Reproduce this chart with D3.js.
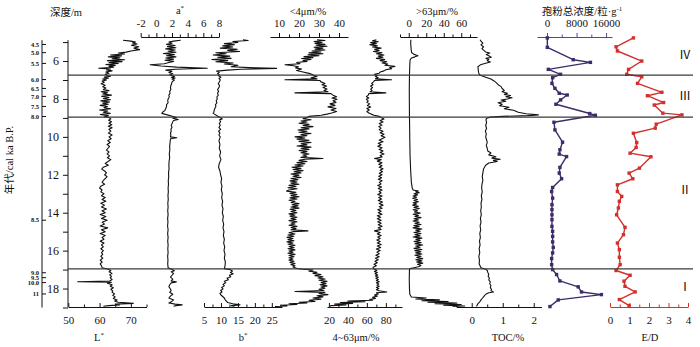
<!DOCTYPE html>
<html>
<head>
<meta charset="utf-8">
<script src="https://cdn.jsdelivr.net/npm/d3@7"></script>
<style>
body { margin: 0; background: #fff; }
text { font-family: "Liberation Serif", "Noto Sans CJK SC", serif; }
</style>
</head>
<body>
<script>
// ---- Data: [depth (m), value] ----
const lStar = [[4.9,67.5],[4.95,70],[5.0,71.5],[5.05,70.5],[5.1,72],[5.17,70.2],[5.25,72.5],[5.32,71],[5.4,72.8],[5.47,70],[5.53,68.5],[5.58,66],[5.63,68],[5.68,63.5],[5.73,67],[5.78,62.8],[5.83,66.5],[5.88,64],[5.93,68],[5.98,62.5],[6.03,67.2],[6.08,63],[6.13,66],[6.18,62],[6.23,65],[6.28,63],[6.33,64.5],[6.38,59.7],[6.42,63.5],[6.47,62.2],[6.52,64],[6.58,62],[6.64,63],[6.7,61.8],
  [6.76,62.5],[6.8,63.5],[6.85,61.5],[6.9,62.8],[6.95,61],[7.0,62.2],[7.06,60.8],[7.12,61.5],[7.2,60.5],[7.28,61.8],[7.35,61],[7.42,62],[7.5,61.2],[7.56,63],[7.62,60.5],[7.68,62.5],[7.74,61],[7.8,63.8],[7.86,60.6],[7.92,63],[7.98,61.2],[8.04,63.5],[8.1,60.4],[8.16,63.2],[8.22,61],[8.28,62.8],[8.34,60.2],[8.4,62.5],[8.46,61.4],[8.52,63.5],[8.58,60],[8.64,62.6],[8.7,61.2],[8.76,63.4],[8.82,60.2],[8.88,62.8],[8.94,61.5],
  [8.98,63],[9.05,63.6],[9.12,62.9],[9.2,63.8],[9.28,63],[9.36,63.9],[9.44,62.8],[9.52,64],[9.6,63],[9.7,63.6],[9.8,62.8],[9.9,64],[10.0,63],[10.1,63.7],[10.2,62.6],[10.3,63.4],[10.4,62.4],[10.5,63.2],[10.6,62.7],[10.7,62.2],[10.8,63],[10.9,62.4],[11.0,63.2],[11.1,62.5],[11.2,63.6],[11.3,62.7],[11.4,61.8],[11.5,62.8],[11.6,61.2],[11.7,60.7],[11.8,61.6],[11.9,62.2],[12.0,61.6],[12.1,62.4],[12.2,61.8],[12.3,61.2],[12.4,60.8],[12.5,61.6],[12.6,60.4],[12.7,60],[12.8,60.8],[12.9,60.4],[13.0,61.4],[13.1,60.6],[13.2,61.8],[13.3,60.8],[13.4,62],[13.5,60.4],[13.6,61.6],[13.7,60.6],[13.8,62.2],[13.9,60.8],[14.0,61.8],[14.1,60.2],[14.2,62],[14.3,60.6],[14.4,62.4],[14.5,60.8],[14.6,61.6],[14.7,60.2],[14.8,62.6],[14.9,60.6],[15.0,61.8],[15.1,60.2],[15.2,61.8],[15.3,60.8],[15.4,61.4],[15.5,60.2],[15.6,61.4],[15.7,60.6],[15.8,61.2],[15.9,60.4],[16.0,61.2],[16.1,60.6],[16.2,61],[16.3,60.4],[16.4,61],[16.5,60.2],[16.6,60.8],[16.7,60.2],[16.8,60.6],[16.9,60.8],
  [16.98,62.8],[17.05,63.6],[17.12,63],[17.2,64],[17.28,63.2],[17.36,63.8],[17.44,63.4],[17.52,64],[17.6,63.2],[17.64,53],[17.67,63.8],[17.72,62.5],[17.8,64],[17.88,63.4],[17.96,64.4],[18.04,63.6],[18.12,64.2],[18.2,64],[18.28,64.8],[18.36,64.2],[18.44,65],[18.52,64.4],[18.6,65.6],[18.66,64.8],[18.72,66],[18.78,70.8],[18.82,65],[18.86,66.4],[18.9,63],[18.93,61.2]];

const aStar = [[4.9,3.1],[4.95,2.2],[5.0,1.6],[5.06,2.0],[5.12,1.3],[5.18,2.4],[5.24,1.4],[5.3,2.5],[5.36,1.2],[5.42,2.4],[5.48,1.5],[5.54,2.5],[5.6,0.9],[5.66,2.3],[5.72,1.3],[5.78,2.5],[5.84,1.2],[5.9,2.2],[5.96,1.1],[6.02,2.2],[6.08,1.6],[6.14,1.0],[6.2,-0.8],[6.26,0.6],[6.32,2.6],[6.38,6.5],[6.43,2.4],[6.48,1.2],[6.54,2.0],[6.6,1.6],[6.67,2.1],[6.72,1.7],
  [6.78,2.1],[6.82,2.3],[6.86,1.9],[6.9,2.4],[6.95,2.0],[7.0,2.3],[7.1,2.0],[7.2,1.95],[7.3,1.85],[7.4,1.8],[7.5,1.85],[7.6,1.7],[7.7,1.75],[7.8,1.6],[7.9,1.65],[8.0,1.5],[8.1,1.45],[8.2,1.5],[8.3,1.3],[8.4,1.3],[8.5,1.2],[8.6,1.1],[8.7,0.8],[8.76,0.7],
  [8.98,2.6],[9.02,2.1],[9.08,2.8],[9.14,2.2],[9.2,2.1],[9.3,2.0],[9.4,1.9],[9.5,2.0],[9.6,1.85],[9.7,1.9],[9.8,1.8],[9.9,1.85],[10.0,1.8],[10.05,2.6],[10.1,1.8],[10.3,1.75],[10.5,1.7],[10.7,1.72],[10.9,1.65],[11.1,1.7],[11.3,1.62],[11.5,1.6],[11.7,1.62],[11.9,1.55],[12.1,1.58],[12.3,1.52],[12.5,1.55],[12.7,1.5],[12.9,1.53],[13.1,1.48],[13.3,1.52],[13.5,1.46],[13.7,1.5],[13.9,1.45],[14.1,1.5],[14.3,1.44],[14.5,1.48],[14.7,1.43],[14.9,1.5],[15.1,1.44],[15.3,1.5],[15.5,1.45],[15.7,1.5],[15.9,1.46],[16.1,1.5],[16.3,1.44],[16.5,1.48],[16.7,1.45],[16.9,1.5],
  [17.0,2.0],[17.06,2.3],[17.12,1.9],[17.2,2.2],[17.3,2.0],[17.4,1.8],[17.5,2.1],[17.6,1.9],[17.65,2.55],[17.7,1.9],[17.8,1.7],[17.9,1.6],[18.0,1.75],[18.1,1.9],[18.2,1.7],[18.3,2.1],[18.4,1.8],[18.5,1.6],[18.6,2.2],[18.7,1.9],[18.76,1.6],[18.82,2.4],[18.86,3.3],[18.9,2.5],[18.93,2.2]];

const bStar = [[4.88,16.5],[4.92,18],[4.97,13.5],[5.02,15],[5.08,11],[5.14,14],[5.2,10.5],[5.26,13.5],[5.32,9.8],[5.38,14.8],[5.44,12],[5.5,15.5],[5.56,8.5],[5.62,11.5],[5.68,7.7],[5.74,12.6],[5.8,9],[5.86,13],[5.92,7.3],[5.98,12],[6.04,8.5],[6.1,13.6],[6.16,11],[6.22,15],[6.3,13],[6.36,20],[6.39,26.4],[6.43,16],[6.48,12],[6.53,8.7],[6.6,9.5],[6.67,9.0],[6.72,9.5],
  [6.78,9.3],[6.85,10],[6.92,9.4],[7.0,9.8],[7.1,9.5],[7.2,9.2],[7.3,9.6],[7.4,9.4],[7.5,9.0],[7.6,9.3],[7.7,9.0],[7.8,9.2],[7.9,8.8],[8.0,8.9],[8.1,8.6],[8.2,8.8],[8.3,8.4],[8.4,8.5],[8.5,8.2],[8.6,8.0],[8.7,7.9],[8.76,7.7],
  [8.98,9.7],[9.05,10.4],[9.1,9.6],[9.2,9.9],[9.3,9.5],[9.4,9.8],[9.5,9.4],[9.6,9.9],[9.7,9.3],[9.8,9.7],[9.9,9.4],[10.0,9.8],[10.2,9.4],[10.4,9.7],[10.6,9.5],[10.8,9.9],[11.0,9.6],[11.2,10],[11.4,9.5],[11.6,9.3],[11.8,9.7],[12.0,9.9],[12.2,10.2],[12.4,10],[12.6,10.3],[12.8,10.1],[13.0,10.4],[13.2,10.2],[13.4,10.5],[13.6,10.3],[13.8,10.6],[14.0,10.4],[14.2,10.7],[14.4,10.5],[14.6,10.8],[14.8,10.6],[15.0,10.9],[15.2,10.7],[15.4,11],[15.6,10.8],[15.8,11.1],[16.0,10.9],[16.2,11.2],[16.4,11],[16.6,11.3],[16.8,11.2],[16.95,11],
  [17.0,12.6],[17.08,13.4],[17.15,12.8],[17.22,13.6],[17.3,12.5],[17.38,12.9],[17.46,11.8],[17.54,12.2],[17.62,11],[17.7,11.4],[17.78,10.6],[17.86,11],[17.94,10.2],[18.02,10.6],[18.1,9.9],[18.18,10.3],[18.26,9.7],[18.34,10],[18.42,10.5],[18.5,11],[18.58,11.2],[18.66,11.6],[18.74,12],[18.8,13.5],[18.86,15.6],[18.9,13],[18.93,14]];

// <4 μm (%)
const clay = [[4.88,29],[4.92,33],[4.97,27.5],[5.02,31.5],[5.07,28],[5.12,33],[5.17,28.5],[5.22,34],[5.27,27.5],[5.32,32],[5.37,28],[5.42,33],[5.47,26.5],[5.52,31],[5.57,25],[5.62,32],[5.67,24.5],[5.72,30],[5.77,22.5],[5.82,27],[5.87,21.3],[5.92,26],[5.97,22],[6.02,24],[6.08,18.8],[6.14,20.5],[6.2,13],[6.25,17.2],[6.3,19.7],[6.36,18.3],[6.42,21.3],[6.5,18.8],[6.58,22],[6.65,25],[6.72,27],
  [6.76,27],[6.82,29],[6.88,26],[6.94,29],[6.99,13],[7.03,30.5],[7.1,31],[7.18,33],[7.25,31.5],[7.32,33.8],[7.4,32],[7.48,34],[7.55,32.5],[7.62,34.5],[7.68,18],[7.72,36],[7.8,37],[7.88,38.8],[7.95,36.5],[8.02,39],[8.1,37],[8.18,38.5],[8.26,35.5],[8.34,38],[8.42,34.5],[8.5,38.5],[8.58,36],[8.66,38.8],[8.74,36.3],[8.8,34],[8.86,31],[8.92,25],
  [8.98,24],[9.04,22],[9.1,26],[9.16,21],[9.22,24],[9.28,20],[9.34,25],[9.4,22],[9.46,27],[9.52,21],[9.58,25],[9.64,19.5],[9.7,24],[9.76,20],[9.82,26],[9.88,21],[9.94,24],[10.0,18],[10.06,23],[10.12,19],[10.18,25],[10.24,20],[10.3,26],[10.36,21],[10.42,24],[10.48,19],[10.54,26],[10.6,21],[10.66,25],[10.72,20],[10.78,24],[10.84,21],[10.9,25],[10.96,22],[11.02,24],[11.08,21],[11.14,32],[11.18,23],[11.24,20],[11.3,24],[11.36,19],[11.42,23],[11.48,18],[11.54,22],[11.6,16.5],[11.66,21],[11.72,17],[11.78,22],[11.84,17.5],[11.9,21],[11.96,16],[12.02,20],[12.08,17],[12.14,21],[12.2,16],[12.26,19.5],[12.32,15.5],[12.38,19],[12.44,16],[12.5,20],[12.56,15],[12.62,18.5],[12.68,14.5],[12.74,19],[12.8,15],[12.86,13.8],[12.92,18.5],[12.98,15.5],[13.04,19],[13.1,16],[13.16,20],[13.22,15.5],[13.28,19],[13.34,15],[13.4,18],[13.46,16],[13.52,20],[13.58,16.5],[13.64,19.5],[13.7,16],[13.76,20],[13.82,15.5],[13.88,18.5],[13.94,16],[14.0,19],[14.06,15],[14.12,18],[14.18,15.5],[14.24,19],[14.3,16],[14.36,18.5],[14.42,15],[14.48,19],[14.54,16],[14.6,18],[14.66,15],[14.72,19],[14.78,16],[14.84,18.5],[14.9,16],[14.96,24.5],[15.0,17],[15.06,15],[15.12,18],[15.18,14.5],[15.24,17.5],[15.3,14],[15.36,17],[15.42,14.5],[15.48,17.5],[15.54,14],[15.6,17],[15.66,14.5],[15.72,18],[15.78,15],[15.84,17.5],[15.9,14.5],[15.96,18],[16.02,15],[16.08,17],[16.14,14.5],[16.2,18],[16.26,15],[16.32,17.5],[16.38,15],[16.44,17],[16.5,15],[16.56,17.5],[16.62,15.5],[16.68,18],[16.74,16],[16.8,18],[16.86,17],[16.94,19],
  [16.98,22],[17.02,27],[17.08,25],[17.14,29],[17.2,27],[17.26,31],[17.32,28],[17.38,32],[17.44,29.5],[17.5,33],[17.56,30],[17.62,34],[17.68,31],[17.74,33.5],[17.8,30.5],[17.86,34],[17.92,31],[17.98,33],[18.04,30],[18.1,32.5],[18.16,18],[18.2,33],[18.26,30],[18.32,34.5],[18.38,29],[18.44,32],[18.5,27],[18.56,31],[18.62,25],[18.68,28],[18.72,20],[18.76,24],[18.8,15],[18.84,19],[18.88,11],[18.92,14],[18.95,8]];

// 4~63 μm (%)
const silt = [[4.88,70],[4.93,66],[4.98,72],[5.03,64],[5.08,70],[5.14,63],[5.2,71],[5.26,66],[5.32,75],[5.38,68],[5.44,73],[5.5,67],[5.56,76],[5.62,70],[5.68,78],[5.74,72],[5.8,77],[5.86,70],[5.92,79],[5.98,74],[6.04,81],[6.1,76],[6.16,82],[6.22,79],[6.28,89.5],[6.34,84],[6.4,86],[6.46,80],[6.52,78],[6.58,74],[6.64,73],[6.7,68],
  [6.76,71],[6.82,69],[6.88,72],[6.94,69],[6.99,86],[7.03,68],[7.1,67],[7.18,65],[7.25,66.5],[7.32,64],[7.4,66],[7.48,64],[7.55,65.5],[7.62,63.5],[7.68,80],[7.72,62],[7.8,61.5],[7.88,59.5],[7.95,62],[8.02,59.5],[8.1,61.5],[8.18,60],[8.26,63],[8.34,60.5],[8.42,64],[8.5,60],[8.58,62.5],[8.66,60],[8.74,62],[8.8,64.5],[8.86,67.5],[8.92,73],
  [8.98,75],[9.06,78],[9.14,74],[9.22,77],[9.3,73],[9.38,76],[9.46,72.5],[9.54,75],[9.62,73],[9.7,77],[9.78,74],[9.86,78],[9.94,75],[10.02,79],[10.1,76],[10.18,73],[10.26,77],[10.34,72],[10.42,75],[10.5,71.5],[10.58,76],[10.66,73],[10.74,77],[10.82,74],[10.9,78],[10.98,74],[11.06,76],[11.14,68],[11.2,75],[11.28,71],[11.36,76],[11.44,72.5],[11.52,76],[11.6,73],[11.68,77],[11.76,74],[11.84,76.5],[11.92,73],[12.0,76],[12.08,72.5],[12.16,75.5],[12.24,72],[12.32,76],[12.4,73],[12.48,75],[12.56,71.5],[12.64,75.5],[12.72,72],[12.8,76],[12.88,73],[12.96,75],[13.04,71.5],[13.12,76],[13.2,72.5],[13.28,75.5],[13.36,72],[13.44,76.5],[13.52,73],[13.6,77],[13.68,73],[13.76,76],[13.84,71.5],[13.92,75],[14.0,72],[14.08,76],[14.16,71],[14.24,74.5],[14.32,71],[14.4,75],[14.48,71.5],[14.56,75],[14.64,72],[14.72,76],[14.8,72],[14.88,75],[14.96,68],[15.04,74],[15.12,71],[15.2,75],[15.28,71.5],[15.36,74],[15.44,70.5],[15.52,74],[15.6,71],[15.68,75],[15.76,71],[15.84,74.5],[15.92,70],[16.0,74],[16.08,70.5],[16.16,73],[16.24,69.5],[16.32,73],[16.4,69],[16.48,72],[16.56,68.5],[16.64,71],[16.72,67.5],[16.8,70],[16.88,66.5],[16.94,67],
  [16.98,68],[17.04,70.5],[17.1,68],[17.16,71],[17.22,68.5],[17.28,71.5],[17.34,69],[17.4,72],[17.46,69.5],[17.52,72],[17.58,70],[17.64,73],[17.7,70],[17.76,72.5],[17.82,70.5],[17.88,73],[17.94,70],[18.0,72.5],[18.06,70],[18.12,73],[18.18,81],[18.22,70],[18.28,72],[18.34,68],[18.4,71],[18.46,66],[18.52,69],[18.58,63],[18.62,66],[18.66,40],[18.7,58],[18.74,32],[18.78,45],[18.82,26],[18.86,38],[18.9,22],[18.94,21]];

// >63 μm (%)
const sand = [[4.88,2.5],[5.0,2.2],[5.2,2.4],[5.4,2.8],[5.55,3.2],[5.65,6],[5.72,10.5],[5.78,7],[5.84,3],[5.95,1.5],[6.2,1.2],[6.5,1.0],[6.8,0.8],[7.5,0.6],[8.2,0.7],[8.9,0.8],[9.5,1.0],[10.2,1.2],[11,1.5],[11.8,2.2],[12.4,3],[12.7,4],[12.8,5],[12.86,11],[12.9,8],[12.95,12],[13.0,6],[13.06,10],[13.12,5],[13.18,9],[13.24,4.5],[13.3,10],[13.36,6],[13.42,11],[13.48,5],[13.54,9],[13.6,4.5],[13.66,11],[13.72,6],[13.78,12],[13.84,5],[13.9,10],[13.96,6.5],[14.02,13],[14.08,5],[14.14,11],[14.2,7],[14.26,14],[14.32,6],[14.38,11],[14.44,5],[14.5,12],[14.56,7],[14.62,14],[14.68,6],[14.74,12],[14.8,5],[14.86,15],[14.92,8],[14.98,13],[15.04,6],[15.1,14],[15.16,7],[15.22,13],[15.28,5],[15.34,15],[15.4,8],[15.46,13],[15.52,6],[15.58,14],[15.64,7],[15.7,16],[15.76,8],[15.82,13],[15.88,6],[15.94,15],[16.0,7],[16.06,14],[16.12,8],[16.18,15],[16.24,7],[16.3,14],[16.36,9],[16.42,16],[16.48,8],[16.54,15],[16.6,9],[16.66,16],[16.72,10],[16.78,14],[16.84,12],[16.9,6],[16.95,1.5],[17.0,0.8],[17.5,0.6],[18.0,0.8],[18.3,1.2],[18.45,3],[18.5,20],[18.55,8],[18.6,35],[18.64,15],[18.68,45],[18.72,22],[18.76,55],[18.8,30],[18.84,60],[18.88,40],[18.92,64],[18.95,50]];

const toc = [[4.88,0.27],[4.95,0.3],[5.05,0.36],[5.15,0.3],[5.25,0.38],[5.35,0.33],[5.45,0.4],[5.52,0.45],[5.58,0.58],[5.65,0.47],[5.72,0.55],[5.8,0.63],[5.86,0.46],[5.92,0.55],[5.98,0.5],[6.05,0.6],[6.12,0.45],[6.2,0.28],[6.3,0.2],[6.45,0.21],[6.6,0.22],[6.72,0.25],
  [6.76,0.3],[6.85,0.45],[6.95,0.62],[7.05,0.72],[7.15,0.8],[7.25,0.85],[7.35,0.95],[7.45,0.98],[7.55,1.05],[7.62,0.98],[7.7,1.15],[7.76,1.05],[7.82,1.25],[7.88,1.1],[7.94,1.3],[8.0,1.15],[8.06,0.95],[8.12,1.1],[8.2,0.85],[8.28,0.98],[8.36,0.9],[8.44,1.2],[8.52,1.05],[8.6,1.35],[8.7,1.5],[8.78,1.75],[8.84,2.15],[8.88,1.8],[8.92,1.0],[8.96,0.6],[9.02,0.48],
  [9.1,0.46],[9.25,0.48],[9.4,0.45],[9.55,0.48],[9.7,0.44],[9.85,0.47],[10.0,0.45],[10.15,0.48],[10.3,0.5],[10.45,0.47],[10.6,0.5],[10.75,0.52],[10.85,0.62],[10.95,0.55],[11.05,0.78],[11.12,0.65],[11.18,0.92],[11.24,0.7],[11.3,0.82],[11.38,0.55],[11.5,0.45],[11.7,0.38],[11.9,0.36],[12.1,0.34],[12.3,0.36],[12.5,0.33],[12.7,0.32],[12.9,0.34],[13.1,0.31],[13.3,0.33],[13.5,0.3],[13.7,0.31],[13.9,0.29],[14.1,0.31],[14.3,0.28],[14.5,0.3],[14.7,0.27],[14.9,0.29],[15.1,0.26],[15.3,0.28],[15.5,0.25],[15.7,0.27],[15.9,0.24],[16.1,0.26],[16.3,0.23],[16.5,0.25],[16.7,0.24],[16.9,0.3],
  [16.98,0.45],[17.05,0.5],[17.15,0.52],[17.25,0.55],[17.35,0.53],[17.45,0.57],[17.55,0.55],[17.65,0.6],[17.75,0.58],[17.85,0.62],[17.95,0.6],[18.05,0.64],[18.12,0.62],[18.18,0.7],[18.22,0.55],[18.3,0.45],[18.4,0.4],[18.5,0.35],[18.6,0.3],[18.7,0.26],[18.8,0.2],[18.9,0.17],[18.94,0.15]];

// pollen concentration (grains/g)
const pollen = [[4.78,100],[5.28,100],[5.93,7100],[6.07,11760],[6.44,360],[6.7,3680],[6.88,1530],[7.18,1350],[7.44,2150],[7.7,3320],[7.79,5480],[8.05,3680],[8.28,2420],[8.77,11580],[8.86,13100],[9.23,1890],[9.63,2150],[10.28,4220],[10.68,3500],[10.91,3320],[11.04,5300],[11.61,3500],[11.91,3320],[12.21,3950],[12.67,1530],[12.88,1260],[13.23,1530],[13.58,1350],[13.84,1350],[14.11,1350],[14.37,1350],[14.72,1350],[14.98,1530],[15.25,1530],[15.54,1530],[15.83,1700],[16.12,1530],[16.42,1260],[16.74,1260],[17.0,1530],[17.26,2600],[17.6,3500],[17.91,8440],[18.18,9340],[18.32,14730],[18.6,3050],[18.95,800]];

// E/D ratio
const ed = [[4.78,1.2],[5.25,0.31],[5.47,0.38],[6.0,1.63],[6.44,0.95],[6.7,0.86],[6.83,1.63],[7.18,1.41],[7.65,2.66],[7.83,1.92],[8.19,2.75],[8.32,2.27],[8.75,2.71],[8.84,3.69],[9.33,2.37],[9.54,2.32],[9.81,1.2],[10.3,1.37],[10.56,1.34],[10.86,1.03],[11.05,2.1],[11.65,1.51],[11.91,0.98],[12.21,1.17],[12.53,0.38],[12.88,0.38],[13.14,0.6],[13.4,0.48],[13.75,0.43],[14.11,0.34],[14.77,0.77],[15.16,0.69],[15.6,0.38],[15.95,0.48],[16.35,0.48],[16.74,0.52],[17.05,0.31],[17.3,1.03],[17.61,0.72],[17.88,0.77],[18.18,1.29],[18.58,0.48],[18.9,0.98]];

// depth axis and age tie points
const depthTicks = [5,6,7,8,9,10,11,12,13,14,15,16,17,18,19];
const ageLabels = ['4.5','5.0','5.5','6.0','6.5','7.0','7.5','8.0','8.5','9.0','9.5','10.0','11'];
const ageValues = [4.5,5.0,5.5,6.0,6.5,7.0,7.5,8.0,8.5,9.0,9.5,10.0,11];
const ageDepths = [5.1,5.53,6.1,6.95,7.42,7.84,8.37,8.9,14.37,17.14,17.4,17.66,18.26];

// zones
const zoneBounds = [6.74, 8.96, 16.96];
const zoneNames = ['Ⅳ','Ⅲ','Ⅱ','Ⅰ'];
const zoneMid = [5.68, 7.84, 12.8, 17.9];

// ---- Layout ----
const width = 700, height = 347;
const topY = 37, bottomY = 307;
const svg = d3.select('body').append('svg')
    .attr('width', width)
    .attr('height', height);

const y = d3.scaleLinear().domain([4.78, 19]).range([37.9, 307.5]);

// x scales, one per panel
const xL = d3.scaleLinear().domain([50, 75]).range([68.3, 146.5]);
const xA = d3.scaleLinear().domain([-2, 8]).range([140.7, 219]);
const xB = d3.scaleLinear().domain([5, 28]).range([204, 282]);
const xClay = d3.scaleLinear().domain([5.5, 44.5]).range([270, 348]);
const xSilt = d3.scaleLinear().domain([18, 97]).range([327, 402]);
const xSand = d3.scaleLinear().domain([-10, 78]).range([400, 477]);
const xToc = d3.scaleLinear().domain([-0.5, 2.25]).range([456.2, 541.5]);
const xPollen = d3.scaleLinear().domain([-2700, 17600]).range([537, 612]);
const xEd = d3.scaleLinear().domain([0, 4]).range([610, 688]);

const purple = '#3d2c68', purpleAxis = '#4b4a9c', red = '#d3302c';

// Draw an axis with major (labelled) and minor ticks
function drawAxis(scale, pos, major, minor, fmt, color) {
    const top = pos === 'top';
    const dir = top ? 1 : -1;
    const make = top ? d3.axisTop : d3.axisBottom;
    const g = svg.append('g').attr('transform', `translate(0,${top ? topY : bottomY})`);
    g.call(make(scale).tickValues(major).tickFormat(fmt)
        .tickSizeInner(4 * dir).tickSizeOuter(0).tickPadding(top ? 6 : 9));
    g.append('g').call(make(scale).tickValues(minor).tickFormat('')
        .tickSizeInner(2.5 * dir).tickSizeOuter(0))
        .select('.domain').remove();
    g.selectAll('path, line').attr('stroke', color).attr('stroke-width', 1);
    g.selectAll('text')
        .attr('font-family', '"Liberation Serif", serif')
        .attr('font-size', 11)
        .attr('fill', '#111');
}

drawAxis(xL, 'bottom', [50, 60, 70], [55, 65, 75], d3.format('d'), '#111');
drawAxis(xA, 'top', [-2, 0, 2, 4, 6, 8], [-1, 1, 3, 5, 7], d => d3.format('d')(d).replace('−', '-'), '#111');
drawAxis(xB, 'bottom', [5, 10, 15, 20, 25], [7.5, 12.5, 17.5, 22.5, 27.5], d3.format('d'), '#111');
drawAxis(xClay, 'top', [10, 20, 30, 40], [15, 25, 35], d3.format('d'), '#111');
drawAxis(xSilt, 'bottom', [20, 40, 60, 80], [30, 50, 70, 90], d3.format('d'), '#111');
drawAxis(xSand, 'top', [0, 20, 40, 60], [-10, 10, 30, 50, 70], d3.format('d'), '#111');
drawAxis(xToc, 'bottom', [0, 1, 2], [-0.5, 0.5, 1.5], d3.format('d'), '#111');
drawAxis(xPollen, 'top', [0, 8000, 16000], [4000, 12000], d3.format('d'), purpleAxis);
drawAxis(xEd, 'bottom', [0, 1, 2, 3, 4], [0.5, 1.5, 2.5, 3.5], d3.format('d'), red);

// depth axis
const depthAxis = svg.append('g').attr('transform', 'translate(68,0)')
    .call(d3.axisLeft(y).tickValues(depthTicks)
        .tickFormat(d => d % 2 === 0 ? d : '').tickSize(5).tickPadding(4));
depthAxis.select('.domain').remove();
depthAxis.append('line').attr('x1', 0).attr('x2', 0)
    .attr('y1', y(4.9)).attr('y2', y(19)).attr('stroke', '#111');
depthAxis.selectAll('line').attr('stroke', '#111');
depthAxis.selectAll('text').attr('font-family', '"Liberation Serif", serif')
    .attr('font-size', 12).attr('fill', '#111');

// age axis (non-linear through tie points)
const ageScale = d3.scaleLinear().domain(ageValues).range(ageDepths.map(y));
const ageAxis = svg.append('g').attr('transform', 'translate(42,0)')
    .call(d3.axisLeft(ageScale).tickValues(ageValues)
        .tickFormat((d, i) => ageLabels[i]).tickSizeInner(-4).tickSizeOuter(0).tickPadding(3));
ageAxis.select('.domain').remove();
ageAxis.append('line').attr('x1', 0).attr('x2', 0)
    .attr('y1', y(4.9)).attr('y2', y(19)).attr('stroke', '#111');
ageAxis.selectAll('line').attr('stroke', '#111');
ageAxis.selectAll('text').attr('font-family', '"Liberation Serif", serif')
    .attr('font-size', 6.5).attr('font-weight', 'bold').attr('fill', '#111');

// series lines
function drawLine(data, xs, color, w) {
    svg.append('path').datum(data)
        .attr('fill', 'none')
        .attr('stroke', color)
        .attr('stroke-width', w)
        .attr('stroke-linejoin', 'round')
        .attr('d', d3.line().x(d => xs(d[1])).y(d => y(d[0])));
}
drawLine(lStar, xL, '#111', 1.1);
drawLine(aStar, xA, '#111', 1.1);
drawLine(bStar, xB, '#111', 1.1);
drawLine(clay, xClay, '#111', 1.1);
drawLine(silt, xSilt, '#111', 1.1);
drawLine(sand, xSand, '#111', 1.1);
drawLine(toc, xToc, '#111', 1.1);
drawLine(pollen, xPollen, purple, 1.4);
drawLine(ed, xEd, red, 1.4);

// sample markers
svg.append('g').selectAll('rect').data(pollen).join('rect')
    .attr('x', d => xPollen(d[1]) - 1.7).attr('y', d => y(d[0]) - 1.7)
    .attr('width', 3.4).attr('height', 3.4).attr('fill', purple);
svg.append('g').selectAll('rect').data(ed).join('rect')
    .attr('x', d => xEd(d[1]) - 1.7).attr('y', d => y(d[0]) - 1.7)
    .attr('width', 3.4).attr('height', 3.4).attr('fill', red);

// zone boundaries
svg.append('g').selectAll('line').data(zoneBounds).join('line')
    .attr('x1', 68).attr('x2', 693)
    .attr('y1', d => y(d)).attr('y2', d => y(d))
    .attr('stroke', '#3a3a3a').attr('stroke-width', 1.2);

svg.append('g').selectAll('text').data(zoneNames).join('text')
    .attr('x', 685).attr('y', (d, i) => y(zoneMid[i]))
    .attr('dy', '0.35em').attr('text-anchor', 'middle')
    .attr('font-size', 12).attr('fill', '#111')
    .text(d => d);

// titles
function title(x, yy, main, sup, size) {
    const t = svg.append('text').attr('x', x).attr('y', yy)
        .attr('text-anchor', 'middle').attr('font-size', size || 10.5).attr('fill', '#111')
        .text(main);
    if (sup) t.append('tspan').attr('dy', -4).attr('font-size', 7).text(sup);
    return t;
}
title(66, 16, '深度/m');
title(180, 14, 'a', '*');
title(308, 15, '<4μm/%');
title(437, 15, '>63μm/%');
title(582, 15, '孢粉总浓度/粒·g', '-1');
title(99, 341, 'L', '*');
title(243, 341, 'b', '*');
title(356, 341, '4~63μm/%');
title(508, 341, 'TOC/%');
title(650, 341, 'E/D');

svg.append('text')
    .attr('transform', 'translate(13,160) rotate(-90)')
    .attr('text-anchor', 'middle').attr('font-size', 10.5).attr('fill', '#111')
    .text('年代/cal ka B.P.');
</script>
</body>
</html>
